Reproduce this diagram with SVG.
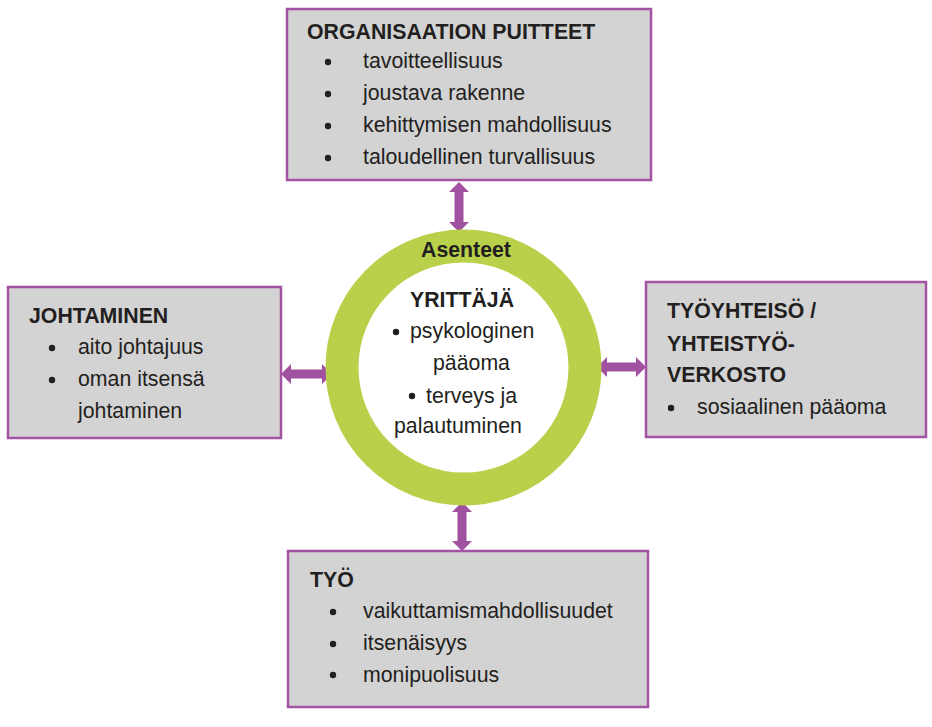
<svg xmlns="http://www.w3.org/2000/svg" width="932" height="727" viewBox="0 0 932 727">
<style>
.box{fill:#d3d3d3;stroke:#a453a2;stroke-width:2.5}
.t{font-family:"Liberation Sans",Arial,sans-serif;font-size:21.3px;fill:#231f20}
.b{font-weight:bold}
.dot{fill:#231f20}
.arr{fill:#a052a0}
</style>
<rect width="932" height="727" fill="#ffffff"/>
<g id="connectors">
<polygon class="arr" points="459,182 469,192 463.5,192 463.5,222 469,222 459,232 449,222 454.5,222 454.5,192 449,192"/>
<polygon class="arr" points="462,502 472,512 466.5,512 466.5,541 472,541 462,551 452,541 457.5,541 457.5,512 452,512"/>
<polygon class="arr" points="281,374 291,364 291,369.5 322,369.5 322,364 332,374 322,384 322,378.5 291,378.5 291,384"/>
<polygon class="arr" points="597,367 607,357 607,362.5 636,362.5 636,357 646,367 636,377 636,371.5 607,371.5 607,377"/>
</g>
<g id="yrittaja">
<circle cx="463.5" cy="367.5" r="121.5" fill="#ffffff" stroke="#b9d14a" stroke-width="33"/>
<text class="t b" x="466" y="257" text-anchor="middle">Asenteet</text>
<text class="t b" x="462" y="307" text-anchor="middle">YRITTÄJÄ</text>
<circle class="dot" cx="396" cy="332" r="3.2"/>
<text class="t" x="410" y="338">psykologinen</text>
<text class="t" x="433" y="370">pääoma</text>
<circle class="dot" cx="412" cy="396" r="3.2"/>
<text class="t" x="426" y="403">terveys ja</text>
<text class="t" x="394" y="433">palautuminen</text>
</g>
<g id="organisaation-puitteet">
<rect class="box" x="287" y="9" width="364" height="171"/>
<text class="t b" x="307" y="39">ORGANISAATION PUITTEET</text>
<circle class="dot" cx="328" cy="62" r="3.2"/>
<circle class="dot" cx="328" cy="94" r="3.2"/>
<circle class="dot" cx="328" cy="126" r="3.2"/>
<circle class="dot" cx="328" cy="158" r="3.2"/>
<text class="t" x="363" y="68">tavoitteellisuus</text>
<text class="t" x="363" y="100">joustava rakenne</text>
<text class="t" x="363" y="132">kehittymisen mahdollisuus</text>
<text class="t" x="363" y="164">taloudellinen turvallisuus</text>
</g>
<g id="johtaminen">
<rect class="box" x="8" y="287" width="273" height="151"/>
<text class="t b" x="29" y="323">JOHTAMINEN</text>
<circle class="dot" cx="52" cy="348" r="3.2"/>
<circle class="dot" cx="52" cy="380" r="3.2"/>
<text class="t" x="78" y="354">aito johtajuus</text>
<text class="t" x="78" y="386">oman itsensä</text>
<text class="t" x="78" y="418">johtaminen</text>
</g>
<g id="tyoyhteiso">
<rect class="box" x="646" y="282" width="280" height="155"/>
<text class="t b" x="667" y="318">TYÖYHTEISÖ /</text>
<text class="t b" x="667" y="351">YHTEISTYÖ-</text>
<text class="t b" x="667" y="382">VERKOSTO</text>
<circle class="dot" cx="671" cy="408" r="3.2"/>
<text class="t" x="697" y="414">sosiaalinen pääoma</text>
</g>
<g id="tyo">
<rect class="box" x="288" y="551" width="360" height="156"/>
<text class="t b" x="310" y="587">TYÖ</text>
<circle class="dot" cx="333" cy="612" r="3.2"/>
<circle class="dot" cx="333" cy="644" r="3.2"/>
<circle class="dot" cx="333" cy="675" r="3.2"/>
<text class="t" x="363" y="618">vaikuttamismahdollisuudet</text>
<text class="t" x="363" y="650">itsenäisyys</text>
<text class="t" x="363" y="682">monipuolisuus</text>
</g>
</svg>
